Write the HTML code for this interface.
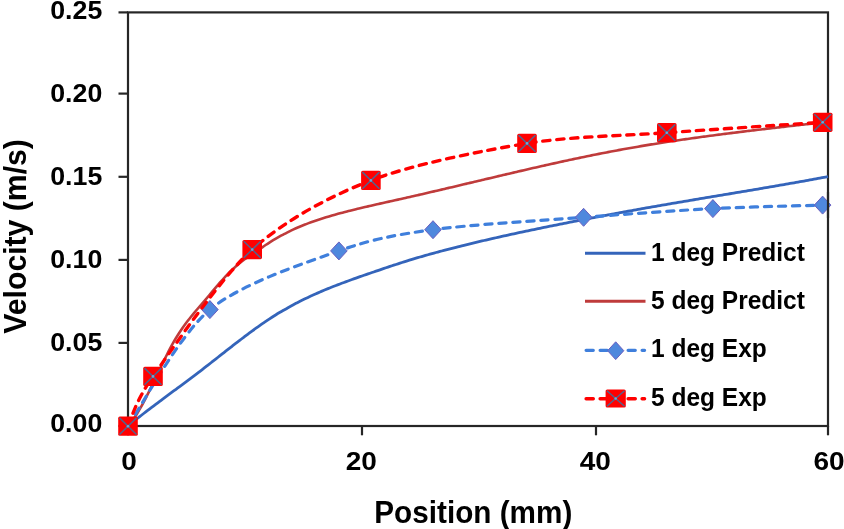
<!DOCTYPE html>
<html><head><meta charset="utf-8"><style>
html,body{margin:0;padding:0;background:#fff;}
svg{display:block;will-change:transform;}
</style></head><body>
<svg width="844" height="529" viewBox="0 0 844 529">
<rect width="844" height="529" fill="#fff"/>
<rect x="128" y="12.4" width="700" height="413.6" fill="none" stroke="#262626" stroke-width="2.2"/>
<line x1="118.5" y1="12.4" x2="128" y2="12.4" stroke="#262626" stroke-width="2.2"/>
<text x="0" y="0" transform="translate(102.3,18.85) scale(1.07,1)" text-anchor="end" style="font-family:&quot;Liberation Sans&quot;,sans-serif;font-weight:bold;font-size:25px" fill="#000">0.25</text>
<line x1="118.5" y1="93.6" x2="128" y2="93.6" stroke="#262626" stroke-width="2.2"/>
<text x="0" y="0" transform="translate(102.3,101.7) scale(1.07,1)" text-anchor="end" style="font-family:&quot;Liberation Sans&quot;,sans-serif;font-weight:bold;font-size:25px" fill="#000">0.20</text>
<line x1="118.5" y1="176.8" x2="128" y2="176.8" stroke="#262626" stroke-width="2.2"/>
<text x="0" y="0" transform="translate(102.3,184.9) scale(1.07,1)" text-anchor="end" style="font-family:&quot;Liberation Sans&quot;,sans-serif;font-weight:bold;font-size:25px" fill="#000">0.15</text>
<line x1="118.5" y1="259.9" x2="128" y2="259.9" stroke="#262626" stroke-width="2.2"/>
<text x="0" y="0" transform="translate(102.3,267.75) scale(1.07,1)" text-anchor="end" style="font-family:&quot;Liberation Sans&quot;,sans-serif;font-weight:bold;font-size:25px" fill="#000">0.10</text>
<line x1="118.5" y1="342.9" x2="128" y2="342.9" stroke="#262626" stroke-width="2.2"/>
<text x="0" y="0" transform="translate(102.3,350.6) scale(1.07,1)" text-anchor="end" style="font-family:&quot;Liberation Sans&quot;,sans-serif;font-weight:bold;font-size:25px" fill="#000">0.05</text>
<line x1="118.5" y1="426.0" x2="128" y2="426.0" stroke="#262626" stroke-width="2.2"/>
<text x="0" y="0" transform="translate(102.3,432.0) scale(1.07,1)" text-anchor="end" style="font-family:&quot;Liberation Sans&quot;,sans-serif;font-weight:bold;font-size:25px" fill="#000">0.00</text>
<line x1="128" y1="426" x2="128" y2="435.3" stroke="#262626" stroke-width="2.2"/>
<text x="0" y="0" transform="translate(129,470) scale(1.12,1)" text-anchor="middle" style="font-family:&quot;Liberation Sans&quot;,sans-serif;font-weight:bold;font-size:25px" fill="#000">0</text>
<line x1="362" y1="426" x2="362" y2="435.3" stroke="#262626" stroke-width="2.2"/>
<text x="0" y="0" transform="translate(361.2,470) scale(1.12,1)" text-anchor="middle" style="font-family:&quot;Liberation Sans&quot;,sans-serif;font-weight:bold;font-size:25px" fill="#000">20</text>
<line x1="596" y1="426" x2="596" y2="435.3" stroke="#262626" stroke-width="2.2"/>
<text x="0" y="0" transform="translate(595.3,470) scale(1.12,1)" text-anchor="middle" style="font-family:&quot;Liberation Sans&quot;,sans-serif;font-weight:bold;font-size:25px" fill="#000">40</text>
<line x1="828" y1="426" x2="828" y2="435.3" stroke="#262626" stroke-width="2.2"/>
<text x="0" y="0" transform="translate(829,470) scale(1.12,1)" text-anchor="middle" style="font-family:&quot;Liberation Sans&quot;,sans-serif;font-weight:bold;font-size:25px" fill="#000">60</text>
<text x="0" y="0" transform="translate(473.3,522.5) scale(0.974,1)" text-anchor="middle" style="font-family:&quot;Liberation Sans&quot;,sans-serif;font-weight:bold;font-size:30.5px" fill="#000">Position (mm)</text>
<text x="0" y="0" transform="translate(25.6,236.4) rotate(-90) scale(0.99,1)" text-anchor="middle" style="font-family:&quot;Liberation Sans&quot;,sans-serif;font-weight:bold;font-size:30.5px" fill="#000">Velocity (m/s)</text>
<path d="M128.00,426.00 C128.67,425.45 130.67,423.82 132.00,422.74 C133.33,421.66 134.67,420.59 136.00,419.53 C137.33,418.47 138.67,417.42 140.00,416.37 C141.33,415.33 142.67,414.29 144.00,413.26 C145.33,412.23 146.67,411.20 148.00,410.18 C149.33,409.16 150.67,408.15 152.00,407.14 C153.33,406.13 154.67,405.12 156.00,404.12 C157.33,403.12 158.67,402.12 160.00,401.13 C161.33,400.13 162.67,399.14 164.00,398.15 C165.33,397.16 166.67,396.17 168.00,395.18 C169.33,394.19 170.67,393.21 172.00,392.22 C173.33,391.24 174.67,390.25 176.00,389.27 C177.33,388.28 178.67,387.29 180.00,386.31 C181.33,385.32 182.67,384.33 184.00,383.34 C185.33,382.35 186.67,381.35 188.00,380.36 C189.33,379.36 190.67,378.36 192.00,377.36 C193.33,376.35 194.67,375.35 196.00,374.33 C197.33,373.32 198.67,372.30 200.00,371.28 C201.33,370.26 202.67,369.23 204.00,368.20 C205.33,367.17 206.67,366.13 208.00,365.09 C209.33,364.05 210.67,363.01 212.00,361.96 C213.33,360.92 214.67,359.87 216.00,358.83 C217.33,357.78 218.67,356.73 220.00,355.68 C221.33,354.64 222.67,353.59 224.00,352.54 C225.33,351.50 226.67,350.45 228.00,349.41 C229.33,348.37 230.67,347.33 232.00,346.29 C233.33,345.25 234.67,344.22 236.00,343.19 C237.33,342.16 238.67,341.14 240.00,340.12 C241.33,339.10 242.67,338.08 244.00,337.08 C245.33,336.07 246.67,335.07 248.00,334.08 C249.33,333.09 250.67,332.10 252.00,331.13 C253.33,330.15 254.67,329.18 256.00,328.23 C257.33,327.27 258.67,326.32 260.00,325.39 C261.33,324.45 262.67,323.53 264.00,322.61 C265.33,321.70 266.67,320.80 268.00,319.91 C269.33,319.03 270.67,318.15 272.00,317.29 C273.33,316.43 274.67,315.58 276.00,314.75 C277.33,313.92 278.67,313.11 280.00,312.31 C281.33,311.50 282.67,310.72 284.00,309.94 C285.33,309.17 286.67,308.41 288.00,307.67 C289.33,306.92 290.67,306.19 292.00,305.47 C293.33,304.75 294.67,304.04 296.00,303.34 C297.33,302.65 298.67,301.97 300.00,301.29 C301.33,300.62 302.67,299.96 304.00,299.31 C305.33,298.66 306.67,298.02 308.00,297.39 C309.33,296.76 310.67,296.15 312.00,295.54 C313.33,294.93 314.67,294.33 316.00,293.74 C317.33,293.15 318.67,292.57 320.00,291.99 C321.33,291.42 322.67,290.85 324.00,290.30 C325.33,289.74 326.67,289.19 328.00,288.65 C329.33,288.11 330.67,287.57 332.00,287.04 C333.33,286.51 334.67,285.99 336.00,285.48 C337.33,284.96 338.67,284.45 340.00,283.94 C341.33,283.44 342.67,282.94 344.00,282.45 C345.33,281.95 346.67,281.46 348.00,280.97 C349.33,280.49 350.67,280.01 352.00,279.53 C353.33,279.05 354.67,278.57 356.00,278.10 C357.33,277.63 358.67,277.16 360.00,276.69 C361.33,276.23 362.67,275.76 364.00,275.30 C365.33,274.84 366.67,274.38 368.00,273.92 C369.33,273.46 370.67,273.00 372.00,272.54 C373.33,272.08 374.67,271.62 376.00,271.17 C377.33,270.71 378.67,270.25 380.00,269.80 C381.33,269.35 382.67,268.90 384.00,268.45 C385.33,268.00 386.67,267.55 388.00,267.10 C389.33,266.66 390.67,266.21 392.00,265.77 C393.33,265.33 394.67,264.89 396.00,264.46 C397.33,264.03 398.67,263.59 400.00,263.16 C401.33,262.74 402.67,262.31 404.00,261.89 C405.33,261.47 406.67,261.05 408.00,260.64 C409.33,260.22 410.67,259.81 412.00,259.41 C413.33,259.00 414.67,258.60 416.00,258.20 C417.33,257.80 418.67,257.41 420.00,257.02 C421.33,256.63 422.67,256.25 424.00,255.87 C425.33,255.48 426.67,255.11 428.00,254.73 C429.33,254.36 430.67,253.99 432.00,253.62 C433.33,253.25 434.67,252.89 436.00,252.52 C437.33,252.16 438.67,251.80 440.00,251.45 C441.33,251.09 442.67,250.74 444.00,250.39 C445.33,250.04 446.67,249.69 448.00,249.34 C449.33,249.00 450.67,248.65 452.00,248.31 C453.33,247.97 454.67,247.63 456.00,247.29 C457.33,246.95 458.67,246.62 460.00,246.29 C461.33,245.95 462.67,245.62 464.00,245.29 C465.33,244.96 466.67,244.64 468.00,244.31 C469.33,243.99 470.67,243.66 472.00,243.34 C473.33,243.02 474.67,242.70 476.00,242.38 C477.33,242.06 478.67,241.75 480.00,241.43 C481.33,241.12 482.67,240.81 484.00,240.50 C485.33,240.19 486.67,239.88 488.00,239.57 C489.33,239.26 490.67,238.96 492.00,238.65 C493.33,238.35 494.67,238.05 496.00,237.74 C497.33,237.44 498.67,237.14 500.00,236.85 C501.33,236.55 502.67,236.25 504.00,235.96 C505.33,235.66 506.67,235.37 508.00,235.08 C509.33,234.78 510.67,234.49 512.00,234.20 C513.33,233.91 514.67,233.62 516.00,233.34 C517.33,233.05 518.67,232.76 520.00,232.48 C521.33,232.19 522.67,231.91 524.00,231.63 C525.33,231.35 526.67,231.06 528.00,230.78 C529.33,230.50 530.67,230.22 532.00,229.95 C533.33,229.67 534.67,229.39 536.00,229.11 C537.33,228.84 538.67,228.56 540.00,228.29 C541.33,228.01 542.67,227.74 544.00,227.47 C545.33,227.19 546.67,226.92 548.00,226.65 C549.33,226.38 550.67,226.11 552.00,225.84 C553.33,225.57 554.67,225.30 556.00,225.03 C557.33,224.77 558.67,224.50 560.00,224.23 C561.33,223.97 562.67,223.70 564.00,223.43 C565.33,223.17 566.67,222.90 568.00,222.64 C569.33,222.38 570.67,222.11 572.00,221.85 C573.33,221.59 574.67,221.33 576.00,221.07 C577.33,220.81 578.67,220.55 580.00,220.29 C581.33,220.03 582.67,219.77 584.00,219.51 C585.33,219.25 586.67,218.99 588.00,218.74 C589.33,218.48 590.67,218.23 592.00,217.97 C593.33,217.72 594.67,217.46 596.00,217.21 C597.33,216.95 598.67,216.70 600.00,216.45 C601.33,216.20 602.67,215.94 604.00,215.69 C605.33,215.44 606.67,215.19 608.00,214.94 C609.33,214.69 610.67,214.44 612.00,214.20 C613.33,213.95 614.67,213.70 616.00,213.45 C617.33,213.21 618.67,212.96 620.00,212.72 C621.33,212.47 622.67,212.23 624.00,211.98 C625.33,211.74 626.67,211.49 628.00,211.25 C629.33,211.01 630.67,210.77 632.00,210.53 C633.33,210.28 634.67,210.04 636.00,209.80 C637.33,209.56 638.67,209.33 640.00,209.09 C641.33,208.85 642.67,208.61 644.00,208.37 C645.33,208.14 646.67,207.90 648.00,207.66 C649.33,207.43 650.67,207.19 652.00,206.96 C653.33,206.72 654.67,206.49 656.00,206.26 C657.33,206.02 658.67,205.79 660.00,205.56 C661.33,205.33 662.67,205.10 664.00,204.87 C665.33,204.64 666.67,204.41 668.00,204.18 C669.33,203.95 670.67,203.72 672.00,203.49 C673.33,203.26 674.67,203.03 676.00,202.80 C677.33,202.58 678.67,202.35 680.00,202.12 C681.33,201.89 682.67,201.67 684.00,201.44 C685.33,201.22 686.67,200.99 688.00,200.76 C689.33,200.54 690.67,200.31 692.00,200.09 C693.33,199.86 694.67,199.64 696.00,199.41 C697.33,199.19 698.67,198.97 700.00,198.74 C701.33,198.52 702.67,198.29 704.00,198.07 C705.33,197.85 706.67,197.62 708.00,197.40 C709.33,197.18 710.67,196.95 712.00,196.73 C713.33,196.51 714.67,196.28 716.00,196.06 C717.33,195.84 718.67,195.62 720.00,195.39 C721.33,195.17 722.67,194.95 724.00,194.72 C725.33,194.50 726.67,194.28 728.00,194.06 C729.33,193.83 730.67,193.61 732.00,193.39 C733.33,193.16 734.67,192.94 736.00,192.72 C737.33,192.49 738.67,192.27 740.00,192.05 C741.33,191.82 742.67,191.60 744.00,191.37 C745.33,191.15 746.67,190.93 748.00,190.70 C749.33,190.48 750.67,190.25 752.00,190.03 C753.33,189.80 754.67,189.58 756.00,189.35 C757.33,189.12 758.67,188.90 760.00,188.67 C761.33,188.44 762.67,188.22 764.00,187.99 C765.33,187.76 766.67,187.54 768.00,187.31 C769.33,187.08 770.67,186.85 772.00,186.62 C773.33,186.39 774.67,186.16 776.00,185.93 C777.33,185.70 778.67,185.47 780.00,185.24 C781.33,185.01 782.67,184.78 784.00,184.54 C785.33,184.31 786.67,184.08 788.00,183.85 C789.33,183.61 790.67,183.38 792.00,183.14 C793.33,182.91 794.67,182.67 796.00,182.43 C797.33,182.20 798.67,181.96 800.00,181.72 C801.33,181.48 802.67,181.25 804.00,181.01 C805.33,180.77 806.67,180.53 808.00,180.29 C809.33,180.04 810.67,179.80 812.00,179.56 C813.33,179.32 814.67,179.07 816.00,178.83 C817.33,178.58 818.67,178.34 820.00,178.09 C821.33,177.84 822.67,177.60 824.00,177.35 C825.33,177.10 827.33,176.72 828.00,176.60" fill="none" stroke="#3464ba" stroke-width="2.8" stroke-linejoin="round"/>
<path d="M128.00,426.00 C128.50,425.41 130.00,423.73 131.00,422.46 C132.00,421.19 133.00,419.81 134.00,418.36 C135.00,416.90 136.00,415.36 137.00,413.75 C138.00,412.14 139.00,410.45 140.00,408.71 C141.00,406.97 142.00,405.15 143.00,403.30 C144.00,401.44 145.00,399.53 146.00,397.58 C147.00,395.64 148.00,393.64 149.00,391.63 C150.00,389.61 151.00,387.56 152.00,385.50 C153.00,383.44 154.00,381.35 155.00,379.26 C156.00,377.17 157.00,375.07 158.00,372.98 C159.00,370.88 160.00,368.79 161.00,366.71 C162.00,364.64 163.00,362.57 164.00,360.54 C165.00,358.51 166.00,356.49 167.00,354.52 C168.00,352.54 169.00,350.60 170.00,348.71 C171.00,346.82 172.00,344.97 173.00,343.19 C174.00,341.40 175.00,339.67 176.00,338.01 C177.00,336.34 178.00,334.74 179.00,333.19 C180.00,331.64 181.00,330.15 182.00,328.70 C183.00,327.24 184.00,325.85 185.00,324.48 C186.00,323.11 187.00,321.79 188.00,320.50 C189.00,319.20 190.00,317.94 191.00,316.71 C192.00,315.47 193.00,314.26 194.00,313.06 C195.00,311.86 196.00,310.69 197.00,309.52 C198.00,308.35 199.00,307.19 200.00,306.04 C201.00,304.88 202.00,303.73 203.00,302.57 C204.00,301.41 205.00,300.25 206.00,299.07 C207.00,297.90 208.00,296.72 209.00,295.53 C210.00,294.34 211.00,293.15 212.00,291.96 C213.00,290.77 214.00,289.58 215.00,288.39 C216.00,287.21 217.00,286.03 218.00,284.87 C219.00,283.70 220.00,282.54 221.00,281.41 C222.00,280.27 223.00,279.15 224.00,278.05 C225.00,276.95 226.00,275.87 227.00,274.82 C228.00,273.77 229.00,272.74 230.00,271.75 C231.00,270.76 232.00,269.80 233.00,268.88 C234.00,267.95 235.00,267.06 236.00,266.19 C237.00,265.33 238.00,264.49 239.00,263.68 C240.00,262.87 241.00,262.08 242.00,261.31 C243.00,260.54 244.00,259.80 245.00,259.07 C246.00,258.33 247.00,257.62 248.00,256.92 C249.00,256.22 250.00,255.53 251.00,254.84 C252.00,254.16 253.00,253.49 254.00,252.82 C255.00,252.15 256.00,251.49 257.00,250.82 C258.00,250.16 259.00,249.50 260.00,248.83 C261.00,248.16 262.00,247.49 263.00,246.81 C264.00,246.14 265.00,245.45 266.00,244.79 C267.00,244.12 268.00,243.46 269.00,242.82 C270.00,242.17 271.00,241.54 272.00,240.93 C273.00,240.31 274.00,239.70 275.00,239.11 C276.00,238.52 277.00,237.94 278.00,237.37 C279.00,236.80 280.00,236.24 281.00,235.69 C282.00,235.15 283.00,234.61 284.00,234.09 C285.00,233.57 286.00,233.05 287.00,232.55 C288.00,232.05 289.00,231.56 290.00,231.08 C291.00,230.59 292.00,230.12 293.00,229.66 C294.00,229.20 295.00,228.75 296.00,228.30 C297.00,227.86 298.00,227.42 299.00,227.00 C300.00,226.57 301.00,226.16 302.00,225.75 C303.00,225.34 304.00,224.94 305.00,224.55 C306.00,224.15 307.00,223.77 308.00,223.39 C309.00,223.01 310.00,222.64 311.00,222.28 C312.00,221.92 313.00,221.56 314.00,221.21 C315.00,220.86 316.00,220.52 317.00,220.18 C318.00,219.85 319.00,219.52 320.00,219.19 C321.00,218.87 322.00,218.55 323.00,218.23 C324.00,217.92 325.00,217.61 326.00,217.30 C327.00,217.00 328.00,216.70 329.00,216.40 C330.00,216.11 331.00,215.82 332.00,215.53 C333.00,215.24 334.00,214.96 335.00,214.68 C336.00,214.40 337.00,214.12 338.00,213.85 C339.00,213.58 340.00,213.31 341.00,213.04 C342.00,212.77 343.00,212.51 344.00,212.24 C345.00,211.98 346.00,211.72 347.00,211.46 C348.00,211.21 349.00,210.95 350.00,210.70 C351.00,210.45 352.00,210.20 353.00,209.95 C354.00,209.70 355.00,209.45 356.00,209.21 C357.00,208.97 358.00,208.72 359.00,208.48 C360.00,208.24 361.00,208.00 362.00,207.77 C363.00,207.53 364.00,207.29 365.00,207.06 C366.00,206.83 367.00,206.59 368.00,206.36 C369.00,206.13 370.00,205.90 371.00,205.67 C372.00,205.44 373.00,205.21 374.00,204.99 C375.00,204.76 376.00,204.53 377.00,204.31 C378.00,204.08 379.00,203.86 380.00,203.63 C381.00,203.41 382.00,203.19 383.00,202.96 C384.00,202.74 385.00,202.52 386.00,202.29 C387.00,202.07 388.00,201.85 389.00,201.63 C390.00,201.41 391.00,201.18 392.00,200.96 C393.00,200.74 394.00,200.52 395.00,200.29 C396.00,200.07 397.00,199.85 398.00,199.63 C399.00,199.40 400.00,199.18 401.00,198.95 C402.00,198.73 403.00,198.51 404.00,198.28 C405.00,198.05 406.00,197.83 407.00,197.60 C408.00,197.38 409.00,197.15 410.00,196.92 C411.00,196.69 412.00,196.47 413.00,196.24 C414.00,196.01 415.00,195.78 416.00,195.55 C417.00,195.32 418.00,195.09 419.00,194.86 C420.00,194.63 421.00,194.40 422.00,194.17 C423.00,193.94 424.00,193.71 425.00,193.48 C426.00,193.25 427.00,193.02 428.00,192.78 C429.00,192.55 430.00,192.32 431.00,192.09 C432.00,191.85 433.00,191.62 434.00,191.39 C435.00,191.15 436.00,190.92 437.00,190.68 C438.00,190.45 439.00,190.22 440.00,189.98 C441.00,189.75 442.00,189.51 443.00,189.28 C444.00,189.04 445.00,188.81 446.00,188.57 C447.00,188.34 448.00,188.10 449.00,187.86 C450.00,187.63 451.00,187.39 452.00,187.16 C453.00,186.92 454.00,186.68 455.00,186.45 C456.00,186.21 457.00,185.97 458.00,185.74 C459.00,185.50 460.00,185.26 461.00,185.02 C462.00,184.79 463.00,184.55 464.00,184.31 C465.00,184.08 466.00,183.84 467.00,183.60 C468.00,183.36 469.00,183.13 470.00,182.89 C471.00,182.65 472.00,182.41 473.00,182.18 C474.00,181.94 475.00,181.70 476.00,181.46 C477.00,181.23 478.00,180.99 479.00,180.75 C480.00,180.51 481.00,180.28 482.00,180.04 C483.00,179.80 484.00,179.57 485.00,179.33 C486.00,179.09 487.00,178.85 488.00,178.62 C489.00,178.38 490.00,178.14 491.00,177.91 C492.00,177.67 493.00,177.43 494.00,177.20 C495.00,176.96 496.00,176.72 497.00,176.49 C498.00,176.25 499.00,176.02 500.00,175.78 C501.00,175.54 502.00,175.31 503.00,175.07 C504.00,174.84 505.00,174.60 506.00,174.37 C507.00,174.13 508.00,173.90 509.00,173.66 C510.00,173.43 511.00,173.20 512.00,172.96 C513.00,172.73 514.00,172.49 515.00,172.26 C516.00,172.03 517.00,171.79 518.00,171.56 C519.00,171.33 520.00,171.10 521.00,170.87 C522.00,170.63 523.00,170.40 524.00,170.17 C525.00,169.94 526.00,169.71 527.00,169.48 C528.00,169.25 529.00,169.02 530.00,168.79 C531.00,168.56 532.00,168.33 533.00,168.10 C534.00,167.87 535.00,167.64 536.00,167.42 C537.00,167.19 538.00,166.96 539.00,166.73 C540.00,166.51 541.00,166.28 542.00,166.05 C543.00,165.83 544.00,165.60 545.00,165.38 C546.00,165.15 547.00,164.93 548.00,164.70 C549.00,164.48 550.00,164.26 551.00,164.03 C552.00,163.81 553.00,163.59 554.00,163.37 C555.00,163.15 556.00,162.93 557.00,162.71 C558.00,162.49 559.00,162.27 560.00,162.05 C561.00,161.83 562.00,161.61 563.00,161.39 C564.00,161.17 565.00,160.96 566.00,160.74 C567.00,160.52 568.00,160.31 569.00,160.09 C570.00,159.88 571.00,159.66 572.00,159.45 C573.00,159.24 574.00,159.02 575.00,158.81 C576.00,158.60 577.00,158.39 578.00,158.18 C579.00,157.97 580.00,157.76 581.00,157.55 C582.00,157.34 583.00,157.13 584.00,156.93 C585.00,156.72 586.00,156.51 587.00,156.31 C588.00,156.10 589.00,155.90 590.00,155.69 C591.00,155.49 592.00,155.28 593.00,155.08 C594.00,154.88 595.00,154.68 596.00,154.48 C597.00,154.28 598.00,154.08 599.00,153.88 C600.00,153.68 601.00,153.48 602.00,153.29 C603.00,153.09 604.00,152.90 605.00,152.70 C606.00,152.51 607.00,152.31 608.00,152.12 C609.00,151.93 610.00,151.74 611.00,151.54 C612.00,151.35 613.00,151.16 614.00,150.98 C615.00,150.79 616.00,150.60 617.00,150.41 C618.00,150.23 619.00,150.04 620.00,149.86 C621.00,149.67 622.00,149.49 623.00,149.31 C624.00,149.12 625.00,148.94 626.00,148.76 C627.00,148.58 628.00,148.40 629.00,148.23 C630.00,148.05 631.00,147.87 632.00,147.70 C633.00,147.52 634.00,147.35 635.00,147.17 C636.00,147.00 637.00,146.83 638.00,146.66 C639.00,146.48 640.00,146.31 641.00,146.14 C642.00,145.97 643.00,145.81 644.00,145.64 C645.00,145.47 646.00,145.30 647.00,145.14 C648.00,144.97 649.00,144.81 650.00,144.64 C651.00,144.48 652.00,144.32 653.00,144.16 C654.00,143.99 655.00,143.83 656.00,143.67 C657.00,143.51 658.00,143.35 659.00,143.20 C660.00,143.04 661.00,142.88 662.00,142.72 C663.00,142.57 664.00,142.41 665.00,142.26 C666.00,142.10 667.00,141.95 668.00,141.80 C669.00,141.64 670.00,141.49 671.00,141.34 C672.00,141.19 673.00,141.04 674.00,140.89 C675.00,140.74 676.00,140.59 677.00,140.44 C678.00,140.29 679.00,140.15 680.00,140.00 C681.00,139.85 682.00,139.71 683.00,139.56 C684.00,139.42 685.00,139.27 686.00,139.13 C687.00,138.99 688.00,138.84 689.00,138.70 C690.00,138.56 691.00,138.42 692.00,138.28 C693.00,138.14 694.00,138.00 695.00,137.86 C696.00,137.72 697.00,137.58 698.00,137.44 C699.00,137.30 700.00,137.17 701.00,137.03 C702.00,136.89 703.00,136.76 704.00,136.62 C705.00,136.49 706.00,136.35 707.00,136.22 C708.00,136.08 709.00,135.95 710.00,135.82 C711.00,135.68 712.00,135.55 713.00,135.42 C714.00,135.29 715.00,135.16 716.00,135.02 C717.00,134.89 718.00,134.76 719.00,134.63 C720.00,134.50 721.00,134.38 722.00,134.25 C723.00,134.12 724.00,133.99 725.00,133.86 C726.00,133.74 727.00,133.61 728.00,133.48 C729.00,133.36 730.00,133.23 731.00,133.10 C732.00,132.98 733.00,132.85 734.00,132.73 C735.00,132.60 736.00,132.48 737.00,132.36 C738.00,132.23 739.00,132.11 740.00,131.99 C741.00,131.86 742.00,131.74 743.00,131.62 C744.00,131.50 745.00,131.38 746.00,131.25 C747.00,131.13 748.00,131.01 749.00,130.89 C750.00,130.77 751.00,130.65 752.00,130.53 C753.00,130.41 754.00,130.29 755.00,130.17 C756.00,130.05 757.00,129.93 758.00,129.82 C759.00,129.70 760.00,129.58 761.00,129.46 C762.00,129.34 763.00,129.23 764.00,129.11 C765.00,128.99 766.00,128.87 767.00,128.76 C768.00,128.64 769.00,128.52 770.00,128.41 C771.00,128.29 772.00,128.17 773.00,128.06 C774.00,127.94 775.00,127.83 776.00,127.71 C777.00,127.60 778.00,127.48 779.00,127.37 C780.00,127.25 781.00,127.14 782.00,127.02 C783.00,126.91 784.00,126.79 785.00,126.68 C786.00,126.56 787.00,126.45 788.00,126.33 C789.00,126.22 790.00,126.11 791.00,125.99 C792.00,125.88 793.00,125.77 794.00,125.65 C795.00,125.54 796.00,125.42 797.00,125.31 C798.00,125.20 799.00,125.08 800.00,124.97 C801.00,124.86 802.00,124.74 803.00,124.63 C804.00,124.52 805.00,124.40 806.00,124.29 C807.00,124.18 808.00,124.06 809.00,123.95 C810.00,123.84 811.00,123.73 812.00,123.61 C813.00,123.50 814.00,123.39 815.00,123.27 C816.00,123.16 817.00,123.05 818.00,122.93 C819.00,122.82 820.22,122.68 821.00,122.59 C821.78,122.50 822.42,122.43 822.70,122.40" fill="none" stroke="#bf3b3b" stroke-width="2.6" stroke-linejoin="round"/>
<path d="M128.00,426.00 C140.28,408.54 178.27,335.87 209.90,309.60 C241.53,283.34 305.44,262.88 338.90,250.90 C372.36,238.91 396.30,234.74 433.00,229.70 C469.70,224.66 541.62,220.47 583.60,217.30 C625.59,214.14 677.05,210.43 712.90,208.60 C748.75,206.77 806.14,205.62 822.60,205.10" fill="none" stroke="#3f7fdc" stroke-width="3.2" stroke-dasharray="7.2 6.8" stroke-linecap="round"/>
<path d="M128,417.0 L136.3,426 L128,435.0 L119.7,426 Z" fill="#4f88dd" stroke="#6a5fc0" stroke-width="1"/>
<path d="M209.9,300.6 L218.20000000000002,309.6 L209.9,318.6 L201.6,309.6 Z" fill="#4f88dd" stroke="#6a5fc0" stroke-width="1"/>
<path d="M338.9,241.9 L347.2,250.9 L338.9,259.9 L330.59999999999997,250.9 Z" fill="#4f88dd" stroke="#6a5fc0" stroke-width="1"/>
<path d="M433,220.7 L441.3,229.7 L433,238.7 L424.7,229.7 Z" fill="#4f88dd" stroke="#6a5fc0" stroke-width="1"/>
<path d="M583.6,208.3 L591.9,217.3 L583.6,226.3 L575.3000000000001,217.3 Z" fill="#4f88dd" stroke="#6a5fc0" stroke-width="1"/>
<path d="M712.9,199.6 L721.1999999999999,208.6 L712.9,217.6 L704.6,208.6 Z" fill="#4f88dd" stroke="#6a5fc0" stroke-width="1"/>
<path d="M822.6,196.1 L830.9,205.1 L822.6,214.1 L814.3000000000001,205.1 Z" fill="#4f88dd" stroke="#6a5fc0" stroke-width="1"/>
<line x1="828" y1="192" x2="828" y2="218" stroke="#262626" stroke-width="2.2"/>
<path d="M128.00,426.20 C131.75,418.73 134.37,402.89 153.00,376.40 C171.63,349.91 219.51,279.00 252.20,249.60 C284.88,220.20 329.68,196.33 370.90,180.40 C412.12,164.47 482.62,150.56 527.00,143.40 C571.38,136.25 622.44,135.86 666.80,132.70 C711.15,129.53 799.32,123.86 822.70,122.30" fill="none" stroke="#ff0000" stroke-width="3.4" stroke-dasharray="7.2 6.8" stroke-linecap="round"/>
<rect x="118.2" y="416.6" width="19.6" height="19.2" rx="1.6" fill="#ff0000"/><path d="M119.5,417.9 L136.5,434.5 M136.5,417.9 L119.5,434.5" stroke="#56628a" stroke-width="1.5"/><circle cx="128" cy="426.2" r="1.3" fill="#69a8d8"/>
<rect x="143.2" y="366.8" width="19.6" height="19.2" rx="1.6" fill="#ff0000"/><path d="M144.5,368.1 L161.5,384.7 M161.5,368.1 L144.5,384.7" stroke="#56628a" stroke-width="1.5"/><circle cx="153" cy="376.4" r="1.3" fill="#69a8d8"/>
<rect x="242.4" y="240.0" width="19.6" height="19.2" rx="1.6" fill="#ff0000"/><path d="M243.7,241.3 L260.7,257.9 M260.7,241.3 L243.7,257.9" stroke="#56628a" stroke-width="1.5"/><circle cx="252.2" cy="249.6" r="1.3" fill="#69a8d8"/>
<rect x="361.1" y="170.8" width="19.6" height="19.2" rx="1.6" fill="#ff0000"/><path d="M362.4,172.1 L379.4,188.7 M379.4,172.1 L362.4,188.7" stroke="#56628a" stroke-width="1.5"/><circle cx="370.9" cy="180.4" r="1.3" fill="#69a8d8"/>
<rect x="517.2" y="133.8" width="19.6" height="19.2" rx="1.6" fill="#ff0000"/><path d="M518.5,135.1 L535.5,151.7 M535.5,135.1 L518.5,151.7" stroke="#56628a" stroke-width="1.5"/><circle cx="527" cy="143.4" r="1.3" fill="#69a8d8"/>
<rect x="657.0" y="123.1" width="19.6" height="19.2" rx="1.6" fill="#ff0000"/><path d="M658.3,124.4 L675.3,141.0 M675.3,124.4 L658.3,141.0" stroke="#56628a" stroke-width="1.5"/><circle cx="666.8" cy="132.7" r="1.3" fill="#69a8d8"/>
<rect x="812.9" y="112.7" width="19.6" height="19.2" rx="1.6" fill="#ff0000"/><path d="M814.2,114.0 L831.2,130.6 M831.2,114.0 L814.2,130.6" stroke="#56628a" stroke-width="1.5"/><circle cx="822.7" cy="122.3" r="1.3" fill="#69a8d8"/>
<line x1="585" y1="253.3" x2="645.5" y2="253.3" stroke="#3464ba" stroke-width="3"/>
<line x1="585" y1="301.3" x2="645.5" y2="301.3" stroke="#bf3b3b" stroke-width="3"/>
<line x1="586.1" y1="350.3" x2="644.6" y2="350.3" stroke="#3f7fdc" stroke-width="3.2" stroke-dasharray="7.2 6.8" stroke-linecap="round"/>
<path d="M615.7,341.8 L623.8000000000001,350.7 L615.7,359.59999999999997 L607.6,350.7 Z" fill="#4f88dd" stroke="#6a5fc0" stroke-width="1"/>
<line x1="586.1" y1="398.7" x2="644.6" y2="398.7" stroke="#ff0000" stroke-width="3.4" stroke-dasharray="7.2 6.8" stroke-linecap="round"/>
<rect x="605.6" y="389.5" width="20.2" height="18.0" rx="1.6" fill="#ff0000"/><path d="M606.9,390.8 L624.5,406.2 M624.5,390.8 L606.9,406.2" stroke="#56628a" stroke-width="1.5"/><circle cx="615.7" cy="398.5" r="1.3" fill="#69a8d8"/>
<text x="0" y="0" transform="translate(651,261.2) scale(0.98,1)" style="font-family:&quot;Liberation Sans&quot;,sans-serif;font-weight:bold;font-size:25px" fill="#000">1 deg Predict</text>
<text x="0" y="0" transform="translate(651,309.3) scale(0.98,1)" style="font-family:&quot;Liberation Sans&quot;,sans-serif;font-weight:bold;font-size:25px" fill="#000">5 deg Predict</text>
<text x="0" y="0" transform="translate(651,357.4) scale(0.98,1)" style="font-family:&quot;Liberation Sans&quot;,sans-serif;font-weight:bold;font-size:25px" fill="#000">1 deg Exp</text>
<text x="0" y="0" transform="translate(651,405.5) scale(0.98,1)" style="font-family:&quot;Liberation Sans&quot;,sans-serif;font-weight:bold;font-size:25px" fill="#000">5 deg Exp</text>
</svg>
</body></html>
